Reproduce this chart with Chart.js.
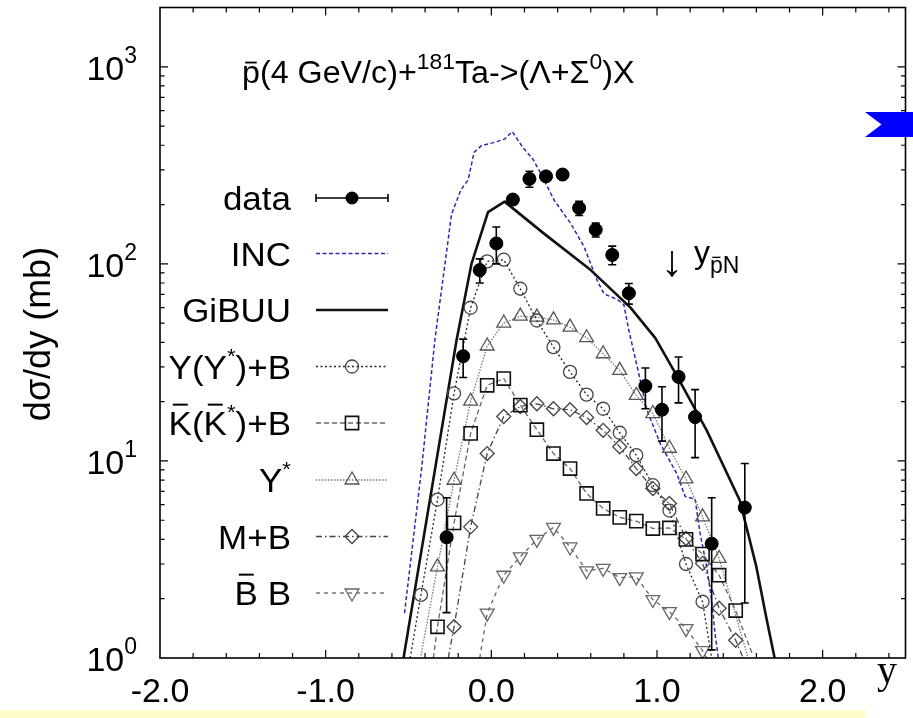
<!DOCTYPE html>
<html>
<head>
<meta charset="utf-8">
<script src="https://cdn.jsdelivr.net/npm/chart.js@4.4.1/dist/chart.umd.min.js"></script>
<style>
  html, body { margin: 0; padding: 0; background: #ffffff; }
  canvas { display: block; }
</style>
</head>
<body>
<canvas id="c" width="913" height="718"></canvas>
<script>
// ---- measured points: rapidity y, dsigma/dy in mb ----
const dataX   = [-0.27, -0.17, -0.07, 0.03, 0.13, 0.23, 0.33, 0.43, 0.53, 0.63, 0.73, 0.83, 0.93, 1.03, 1.13, 1.23, 1.33, 1.53];
const dataY   = [4.1, 34, 93, 127, 212, 270, 278, 284, 192, 149, 111, 71, 24, 18.2, 26.7, 16.7, 3.8, 5.8];
const dataErr = [2.4, 7.5, 13, 27, 0, 25, 0, 0, 16, 12, 12, 8.5, 5.6, 5.6, 7, 6.3, 2.7, 3.9];

// ---- INC calculation ----
const incX = [-0.524, -0.42, -0.34, -0.24, -0.184, -0.14, -0.104, -0.06, 0.02, 0.08, 0.126, 0.19, 0.25, 0.30, 0.38, 0.48, 0.56, 0.64, 0.68, 0.76, 0.80, 0.83, 0.94, 1.02, 1.12, 1.17, 1.23, 1.26, 1.30, 1.33, 1.35, 1.37];
const incY = [1.69, 9.3, 41.7, 179, 237, 267, 368, 398, 414, 430, 469, 390, 341, 286, 210, 160, 122, 82, 70.5, 66, 62, 46, 18.1, 12.2, 8.6, 6.6, 6.4, 4.3, 2.9, 1.97, 1.33, 1.0];

// ---- GiBUU total ----
const gibuuX = [-0.53, -0.21, -0.12, -0.02, 0.08, 0.32, 0.60, 0.84, 0.99, 1.12, 1.30, 1.50, 1.60, 1.66, 1.71];
const gibuuY = [1.0, 41, 100, 183, 207, 142, 93, 60, 42, 27, 14.3, 6.3, 2.9, 1.6, 1.0];

// ---- GiBUU channel decomposition (first/last entries are where a curve meets the axis) ----
const yybX = [-0.49, -0.425, -0.325, -0.225, -0.125, -0.025, 0.075, 0.175, 0.275, 0.375, 0.475, 0.575, 0.675, 0.775, 0.875, 0.975, 1.075, 1.175, 1.275, 1.33];
const yybY = [1.0, 2.09, 6.37, 22.0, 59.9, 103, 105, 74.8, 51.6, 37.8, 28.3, 21.7, 18.4, 13.9, 10.7, 7.53, 5.6, 3.0, 1.93, 1.0];

const kbX = [-0.35, -0.325, -0.225, -0.125, -0.025, 0.075, 0.175, 0.275, 0.375, 0.475, 0.575, 0.675, 0.775, 0.875, 0.975, 1.075, 1.175, 1.275, 1.375, 1.475, 1.575];
const kbY = [1.0, 1.44, 4.85, 13.8, 24.2, 26.2, 19.2, 14.4, 10.9, 9.15, 6.84, 5.74, 5.17, 4.95, 4.54, 4.57, 4.0, 3.37, 2.63, 1.74, 1.05];

const ysX = [-0.425, -0.325, -0.225, -0.125, -0.025, 0.075, 0.175, 0.275, 0.375, 0.475, 0.575, 0.675, 0.775, 0.875, 0.975, 1.075, 1.175, 1.275, 1.375, 1.55];
const ysY = [1.03, 2.9, 7.98, 20.1, 38.3, 50.1, 54.3, 53.7, 52, 47.8, 42.2, 35, 28.8, 21.5, 17.4, 11.6, 8.1, 5.2, 3.2, 1.0];

const mbX = [-0.26, -0.225, -0.125, -0.025, 0.075, 0.175, 0.275, 0.375, 0.475, 0.575, 0.675, 0.775, 0.875, 0.975, 1.075, 1.175, 1.275, 1.375, 1.475, 1.52];
const mbY = [1.0, 1.44, 4.63, 10.9, 16.8, 18.9, 19.5, 18.4, 18.2, 16.6, 14.3, 11.8, 9.15, 7.24, 6.08, 4.04, 3.02, 1.79, 1.23, 1.0];

const bbX = [-0.07, -0.025, 0.075, 0.175, 0.275, 0.375, 0.475, 0.575, 0.675, 0.775, 0.875, 0.975, 1.075, 1.175, 1.275, 1.30];
const bbY = [1.0, 1.69, 2.63, 3.26, 4.0, 4.6, 3.66, 2.77, 2.85, 2.56, 2.58, 1.98, 1.72, 1.41, 1.09, 1.0];

// ---- axis ticks ----
const xMajorTicks = [-2.0, -1.0, 0.0, 1.0, 2.0];
const xTickLabels = ['-2.0', '-1.0', '0.0', '1.0', '2.0'];
const yMajorTicks = [1, 10, 100, 1000];
const yTickExponents = ['0', '1', '2', '3'];

const SANS = '"Liberation Sans", Arial, Helvetica, sans-serif';
const SERIF = '"Liberation Serif", "Times New Roman", serif';

function pts(xs, ys) { return xs.map((x, i) => ({ x: x, y: ys[i] })); }

// markers only on interior entries of a channel curve
function innerRadius(r, n) {
  return ctx => (ctx.dataIndex === 0 || ctx.dataIndex === n - 1) ? 0 : r;
}

// Draws a run of text pieces (with optional size change, vertical shift and overbar)
function rich(ctx, x, y, parts, align, family, sx) {
  family = family || SANS;
  sx = sx || 1;
  let total = 0;
  const widths = parts.map(p => {
    ctx.font = p.s + 'px ' + family;
    const w = ctx.measureText(p.t).width * sx;
    total += w;
    return w;
  });
  let cx = align === 'right' ? x - total : align === 'center' ? x - total / 2 : x;
  ctx.textAlign = 'left';
  ctx.textBaseline = 'alphabetic';
  parts.forEach((p, i) => {
    ctx.font = p.s + 'px ' + family;
    const by = y + (p.dy || 0);
    ctx.save();
    ctx.translate(cx, by);
    ctx.scale(sx, 1);
    ctx.fillText(p.t, 0, 0);
    ctx.restore();
    if (p.bar) {
      const w = widths[i];
      ctx.save();
      ctx.lineWidth = Math.max(1.3, p.s * 0.06);
      ctx.beginPath();
      ctx.moveTo(cx + w * 0.18, by - p.s * p.bar);
      ctx.lineTo(cx + w * 0.82, by - p.s * p.bar);
      ctx.stroke();
      ctx.restore();
    }
    cx += widths[i];
  });
  return total;
}

const frameAndText = {
  id: 'frameAndText',
  beforeDraw(chart) {
    const c = chart.ctx;
    c.save();
    c.fillStyle = '#ffffff';
    c.fillRect(0, 0, chart.width, chart.height);
    // pale banner strip along the bottom edge
    c.fillStyle = '#ffffcc';
    c.fillRect(0, 710, 866, 8);
    c.restore();
  },
  afterDatasetsDraw(chart) {
    const c = chart.ctx;
    const xs = chart.scales.x, ys = chart.scales.y;
    const a = chart.chartArea;

    // error bars of the measured points
    c.save();
    c.strokeStyle = '#000';
    c.lineWidth = 1.6;
    dataX.forEach((x, i) => {
      const e = dataErr[i];
      if (!e) return;
      const px = xs.getPixelForValue(x);
      const top = ys.getPixelForValue(dataY[i] + e);
      const bot = ys.getPixelForValue(Math.max(dataY[i] - e, 1.0));
      c.beginPath();
      c.moveTo(px, top); c.lineTo(px, bot);
      c.moveTo(px - 4, top); c.lineTo(px + 4, top);
      if (dataY[i] - e > 1.0) { c.moveTo(px - 4, bot); c.lineTo(px + 4, bot); }
      c.stroke();
    });
    // redraw the filled markers above their bars
    c.fillStyle = '#000';
    dataX.forEach((x, i) => {
      c.beginPath();
      c.arc(xs.getPixelForValue(x), ys.getPixelForValue(dataY[i]), 6.5, 0, Math.PI * 2);
      c.fill();
    });
    c.restore();

    // frame
    c.save();
    c.strokeStyle = '#000';
    c.lineWidth = 1.6;
    c.strokeRect(a.left, a.top, a.right - a.left, a.bottom - a.top);

    // x ticks (bottom and top, inward)
    c.lineWidth = 1.2;
    c.beginPath();
    for (let k = -10; k <= 12; k++) {
      const v = k * 0.2;
      const px = xs.getPixelForValue(v);
      if (px <= a.left + 1 || px >= a.right - 1) continue;
      const len = (k % 5 === 0) ? 8 : 5;
      c.moveTo(px, a.bottom); c.lineTo(px, a.bottom - len);
      c.moveTo(px, a.top); c.lineTo(px, a.top + len);
    }
    // y ticks (left and right, inward)
    for (let d = 0; d <= 3; d++) {
      for (let m = 1; m <= 9; m++) {
        const v = m * Math.pow(10, d);
        if (v > ys.max) break;
        const py = ys.getPixelForValue(v);
        if (py <= a.top + 1 || py >= a.bottom - 1) continue;
        const len = (m === 1) ? 8 : 4.5;
        c.moveTo(a.left, py); c.lineTo(a.left + len, py);
        c.moveTo(a.right, py); c.lineTo(a.right - len, py);
      }
    }
    c.stroke();
    c.restore();

    // tick labels
    c.save();
    c.fillStyle = '#000';
    c.strokeStyle = '#000';
    xMajorTicks.forEach((v, i) => {
      rich(c, xs.getPixelForValue(v), 702, [{ t: xTickLabels[i], s: 34 }], 'center');
    });
    yMajorTicks.forEach((v, i) => {
      const py = ys.getPixelForValue(v);
      rich(c, 137, py + 13, [{ t: '10', s: 34 }, { t: yTickExponents[i], s: 23, dy: -17 }], 'right');
    });

    // axis titles
    c.save();
    c.translate(40, 334);
    c.rotate(-Math.PI / 2);
    c.font = '36px ' + SANS;
    c.textAlign = 'center';
    c.textBaseline = 'middle';
    c.fillText('d\u03c3/dy (mb)', 0, 0);
    c.restore();
    rich(c, 887, 683, [{ t: 'y', s: 40 }], 'center', SERIF);

    // reaction
    rich(c, 242, 83, [
      { t: 'p', s: 31, bar: 0.66 },
      { t: '(4 GeV/c)+', s: 31 },
      { t: '181', s: 22, dy: -14 },
      { t: 'Ta->(\u039b+\u03a3', s: 31 },
      { t: '0', s: 22, dy: -14 },
      { t: ')X', s: 31 }
    ], 'left', SANS, 1.04);

    // NN-system rapidity marker
    rich(c, 672, 276, [{ t: '\u2193', s: 44 }], 'center');
    rich(c, 694, 263, [
      { t: 'y', s: 32 },
      { t: 'p', s: 23, dy: 10, bar: 0.68 },
      { t: 'N', s: 23, dy: 10 }
    ], 'left');
    c.restore();

    // legend
    drawLegend(chart);

    // blue pointer at the right edge
    c.save();
    c.fillStyle = '#0000ff';
    c.beginPath();
    c.moveTo(865, 112);
    c.lineTo(913, 112);
    c.lineTo(913, 137);
    c.lineTo(865, 137);
    c.lineTo(881.5, 124.5);
    c.closePath();
    c.fill();
    c.restore();
  }
};

function drawLegend(chart) {
  const c = chart.ctx;
  const rowY = [198, 253.5, 310, 366.5, 423, 480, 536.5, 593];
  const textR = 291, l0 = 316, l1 = 388, mx = 352;
  const S = 33, sx = 1.06;
  c.save();
  c.fillStyle = '#000';
  c.strokeStyle = '#000';
  const labels = [
    [{ t: 'data', s: S }],
    [{ t: 'INC', s: S }],
    [{ t: 'GiBUU', s: S }],
    [{ t: 'Y(Y', s: S }, { t: '*', s: 21, dy: -16 }, { t: ')+B', s: S }],
    [{ t: 'K', s: S, bar: 0.92 }, { t: '(', s: S }, { t: 'K', s: S, bar: 0.92 }, { t: '*', s: 21, dy: -16 }, { t: ')+B', s: S }],
    [{ t: 'Y', s: S }, { t: '*', s: 21, dy: -16 }],
    [{ t: 'M+B', s: S }],
    [{ t: 'B', s: S, bar: 0.92 }, { t: ' B', s: S }]
  ];
  labels.forEach((parts, i) => rich(c, textR, rowY[i] + 12, parts, 'right', SANS, sx));

  const ds = chart.data.datasets;
  // data: horizontal bar with caps and a filled point
  c.lineWidth = 1.6;
  c.beginPath();
  c.moveTo(l0, rowY[0]); c.lineTo(l1, rowY[0]);
  c.moveTo(l0, rowY[0] - 4); c.lineTo(l0, rowY[0] + 4);
  c.moveTo(l1, rowY[0] - 4); c.lineTo(l1, rowY[0] + 4);
  c.stroke();
  c.beginPath();
  c.arc(mx, rowY[0], 6.5, 0, Math.PI * 2);
  c.fill();

  // curves: sample line in the same style, hollow channel marker in the middle
  [1, 2, 3, 4, 5, 6, 7].forEach((di, k) => {
    const d = ds[di];
    const y = rowY[k + 1];
    c.save();
    c.strokeStyle = d.borderColor;
    c.lineWidth = d.borderWidth;
    c.setLineDash(d.borderDash || []);
    c.beginPath();
    c.moveTo(l0, y); c.lineTo(l1, y);
    c.stroke();
    c.restore();
    if (d.legendMarker) {
      c.save();
      c.setLineDash([]);
      c.fillStyle = 'rgba(0,0,0,0)';
      c.strokeStyle = d.pointBorderColor;
      c.lineWidth = d.pointBorderWidth;
      Chart.helpers.drawPoint(c, {
        pointStyle: d.pointStyle,
        rotation: d.pointRotation || 0,
        radius: d.legendMarker,
        borderWidth: d.pointBorderWidth
      }, mx, y);
      c.restore();
    }
  });
  c.restore();
}

const channelBase = { showLine: true, fill: false, tension: 0, pointBackgroundColor: 'rgba(0,0,0,0)', pointBorderWidth: 1.3, clip: 0 };

new Chart(document.getElementById('c'), {
  type: 'scatter',
  data: {
    datasets: [
      { label: 'data', data: pts(dataX, dataY), showLine: false, pointRadius: 6.5, pointBackgroundColor: '#000', pointBorderColor: '#000', order: 0 },
      { label: 'INC', data: pts(incX, incY), showLine: true, borderColor: '#2a2ab0', borderWidth: 1.5, borderDash: [4, 2.5], pointRadius: 0, order: 5 },
      { label: 'GiBUU', data: pts(gibuuX, gibuuY), showLine: true, borderColor: '#111', borderWidth: 2.6, pointRadius: 0, tension: 0, order: 4 },
      Object.assign({}, channelBase, { label: 'Y(Y*)+B', data: pts(yybX, yybY), borderColor: '#222', borderWidth: 1.3, borderDash: [2, 2.5],
        pointStyle: 'circle', pointRadius: innerRadius(6.5, yybX.length), pointBorderColor: '#444', legendMarker: 6.5, order: 3 }),
      Object.assign({}, channelBase, { label: 'Kbar(Kbar*)+B', data: pts(kbX, kbY), borderColor: '#666', borderWidth: 1.3, borderDash: [5, 3],
        pointStyle: 'rect', pointRadius: innerRadius(9.3, kbX.length), pointBorderColor: '#111', pointBorderWidth: 1.6, legendMarker: 9.3, order: 3 }),
      Object.assign({}, channelBase, { label: 'Y*', data: pts(ysX, ysY), borderColor: '#777', borderWidth: 1.3, borderDash: [1.5, 1.5],
        pointStyle: 'triangle', pointRadius: innerRadius(8, ysX.length), pointBorderColor: '#555', legendMarker: 8, order: 3 }),
      Object.assign({}, channelBase, { label: 'M+B', data: pts(mbX, mbY), borderColor: '#444', borderWidth: 1.3, borderDash: [6, 3, 1.5, 3],
        pointStyle: 'rectRot', pointRadius: innerRadius(7, mbX.length), pointBorderColor: '#444', legendMarker: 7, order: 3 }),
      Object.assign({}, channelBase, { label: 'Bbar B', data: pts(bbX, bbY), borderColor: '#666', borderWidth: 1.3, borderDash: [4, 4],
        pointStyle: 'triangle', pointRotation: 180, pointRadius: innerRadius(8, bbX.length), pointBorderColor: '#666', legendMarker: 8, order: 3 })
    ]
  },
  options: {
    responsive: false,
    animation: false,
    devicePixelRatio: 1,
    layout: { padding: { left: 160, top: 7, right: 2.5, bottom: 60 } },
    scales: {
      x: { type: 'linear', min: -2.0, max: 2.5, display: false },
      y: { type: 'logarithmic', min: 1, max: 2000, display: false }
    },
    plugins: { legend: { display: false }, tooltip: { enabled: false } },
    elements: { line: { borderJoinStyle: 'round' } }
  },
  plugins: [frameAndText]
});
</script>
</body>
</html>
